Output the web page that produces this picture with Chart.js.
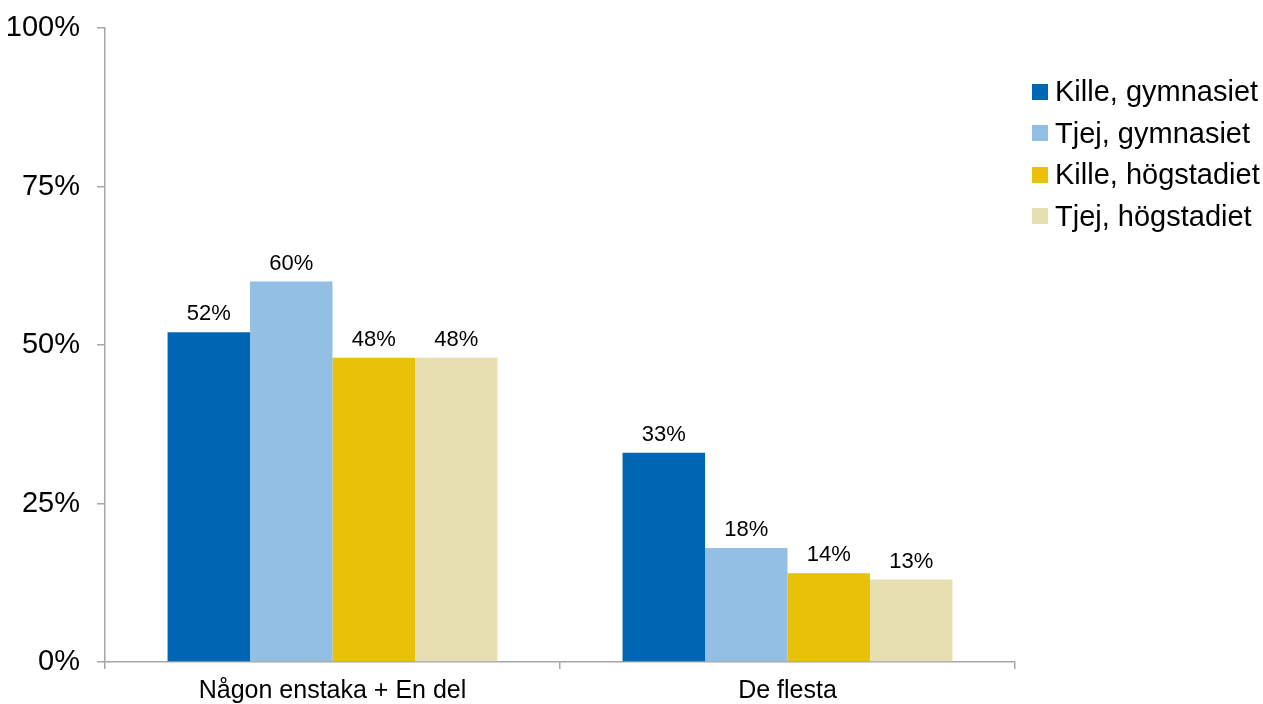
<!DOCTYPE html>
<html>
<head>
<meta charset="utf-8">
<script src="https://cdn.jsdelivr.net/npm/chart.js@4.4.1/dist/chart.umd.min.js"></script>
<style>
  html,body{margin:0;padding:0;background:#fff;}
  #wrap{position:relative;width:1263px;height:704px;}
  #legend{position:absolute;left:1032px;top:71px;font-family:"Liberation Sans",Arial,sans-serif;font-size:29px;color:#000;}
  #legend .item{display:flex;align-items:center;height:41.5px;white-space:nowrap;}
  #legend .box{width:16px;height:16px;margin-right:7px;flex:none;}
</style>
</head>
<body>
<div id="wrap">
  <canvas id="chart" width="1263" height="704"></canvas>
  <div id="legend"></div>
</div>
<script>
// categories and series
const categories = ['Någon enstaka + En del', 'De flesta'];
const seriesNames = ['Kille, gymnasiet', 'Tjej, gymnasiet', 'Kille, högstadiet', 'Tjej, högstadiet'];
const killeGymnasiet = [52, 33];
const tjejGymnasiet = [60, 18];
const killeHogstadiet = [48, 14];
const tjejHogstadiet = [48, 13];
const yTicks = [0, 25, 50, 75, 100];

const colors = ['#0066B3', '#92BFE3', '#E8C108', '#E5DFB1'];
const FONT = '"Liberation Sans", Arial, sans-serif';
const AXIS = '#A6A6A6';

const values = [killeGymnasiet, tjejGymnasiet, killeHogstadiet, tjejHogstadiet];
const datasets = seriesNames.map((name, i) => ({
  label: name,
  data: values[i],
  backgroundColor: colors[i],
  borderWidth: 0,
  categoryPercentage: 0.725,
  barPercentage: 1.0
}));

// value labels above bars
const valueLabels = {
  id: 'valueLabels',
  afterDatasetsDraw(chart) {
    const ctx = chart.ctx;
    ctx.save();
    ctx.font = '22px ' + FONT;
    ctx.fillStyle = '#000';
    ctx.textAlign = 'center';
    ctx.textBaseline = 'bottom';
    chart.data.datasets.forEach((ds, i) => {
      chart.getDatasetMeta(i).data.forEach((bar, j) => {
        ctx.fillText(ds.data[j] + '%', bar.x, bar.y - 7);
      });
    });
    ctx.restore();
  }
};

const chart = new Chart(document.getElementById('chart'), {
  type: 'bar',
  data: { labels: categories, datasets },
  options: {
    responsive: false,
    animation: false,
    layout: { padding: { left: 8, right: 248, top: 28, bottom: 0 } },
    plugins: { legend: { display: false }, tooltip: { enabled: false } },
    scales: {
      x: {
        afterFit: s => { s.height = 42; },
        grid: { display: true, offset: true, drawOnChartArea: false, tickLength: 7, color: AXIS, lineWidth: 1.5 },
        border: { color: AXIS, width: 1.5 },
        ticks: { color: '#000', font: { family: FONT, size: 25 }, padding: 7 }
      },
      y: {
        min: 0, max: 100,
        afterFit: s => { s.width = 97; s.paddingTop = 0; s.paddingBottom = 0; },
        afterBuildTicks: axis => { axis.ticks = yTicks.map(v => ({ value: v })); },
        grid: { display: true, drawOnChartArea: false, tickLength: 8, color: AXIS, lineWidth: 1.5 },
        border: { color: AXIS, width: 1.5 },
        ticks: { color: '#000', font: { family: FONT, size: 29 }, padding: 17, callback: v => v + '%' }
      }
    }
  },
  plugins: [valueLabels]
});

// legend
const lg = document.getElementById('legend');
chart.data.datasets.forEach(ds => {
  const it = document.createElement('div');
  it.className = 'item';
  it.innerHTML = `<span class="box" style="background:${ds.backgroundColor}"></span><span>${ds.label}</span>`;
  lg.appendChild(it);
});
</script>
</body>
</html>
